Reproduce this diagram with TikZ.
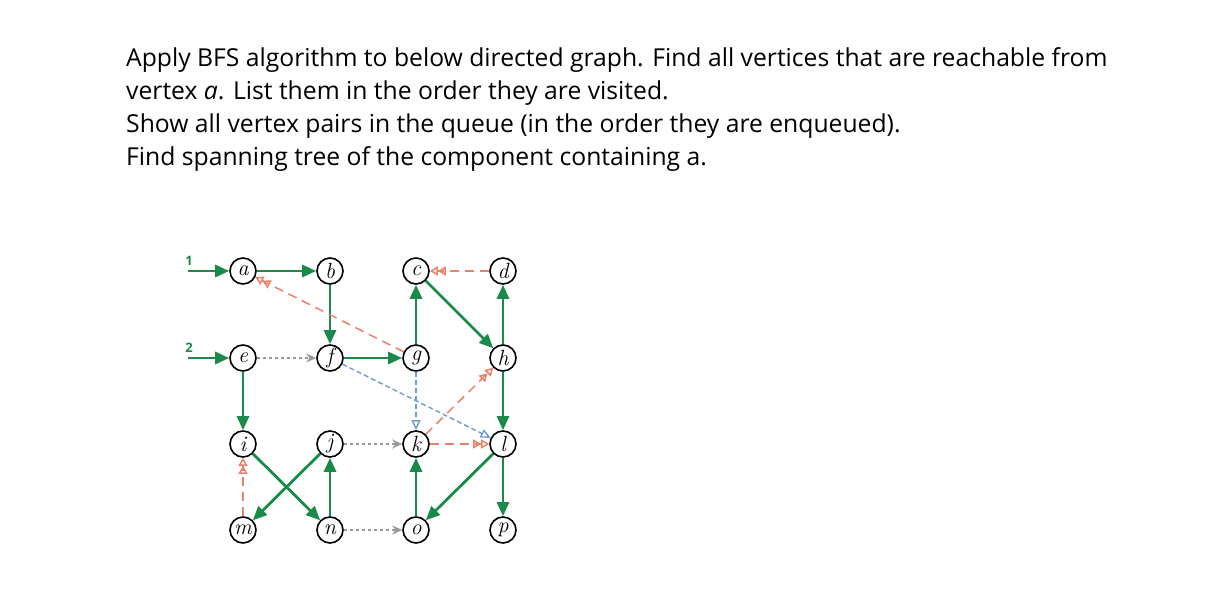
\documentclass[tikz,border=0pt]{standalone}
\usepackage{fontspec}
\setmainfont{Open Sans}
\newfontfamily\lmr{Latin Modern Roman}
\usetikzlibrary{arrows.meta}
\definecolor{gr}{HTML}{1A8A4A}
\definecolor{rd}{HTML}{E8826A}
\definecolor{bl}{HTML}{6E9BD1}
\definecolor{gy}{HTML}{999999}
\begin{document}
\begin{tikzpicture}[x=1pt,y=-1pt,
  v/.style={circle,draw,line width=1.6pt,minimum size=26pt,inner sep=0pt,font=\lmr\itshape\fontsize{22}{22}\selectfont},
  ge/.style={draw=gr,line width=2.8pt,-{Triangle[length=14pt,width=12pt]}},
  re/.style={draw=rd,line width=1.5pt,dash pattern=on 9pt off 6pt,-{Triangle[open,length=8pt,width=9pt]Triangle[open,length=8pt,width=9pt]}},
  be/.style={draw=bl,line width=1.4pt,dash pattern=on 5pt off 3pt,-{Triangle[open,length=10pt,width=9pt]}},
  ye/.style={draw=gy,line width=1.6pt,dash pattern=on 3pt off 3pt,-{Stealth[length=10pt,width=9pt]}},
  t/.style={anchor=base west,inner sep=0pt,font=\fontsize{24.7}{26}\selectfont}]
\useasboundingbox (0,0) rectangle (1216,596);
\node[t] (l1) at (126,67) {Apply BFS algorithm to below directed graph. Find all vertices that are reachable from};
\node[t] (l2) at (126,100) {vertex \textit{a}. List them in the order they are visited.};
\node[t] (l3) at (126,133) {Show all vertex pairs in the queue (in the order they are enqueued).};
\node[t] (l4) at (126,166) {Find spanning tree of the component containing a.};
\foreach \n/\x/\y in {a/243/271,b/330/271,c/416/271,d/503/271,e/243/358,f/330/358,g/416/358,h/503/358,i/243/444,j/330/444,k/416/444,l/503/444,m/243/530,n/330/530,o/416/530,p/503/530}
  \node[v] (\n) at (\x,\y) {\n};
\coordinate (s1) at (188,271);
\coordinate (s2) at (188,358);
\node[font=\bfseries\fontsize{13}{13}\selectfont,text=gr] (n1) at (189,261) {1};
\node[font=\bfseries\fontsize{13}{13}\selectfont,text=gr] (n2) at (189,348) {2};
\draw[ge] (s1)--(a); \draw[ge] (s2)--(e);
\draw[ge] (a)--(b); \draw[ge] (b)--(f); \draw[ge] (f)--(g); \draw[ge] (g)--(c);
\draw[ge] (c)--(h); \draw[ge] (h)--(d); \draw[ge] (h)--(l); \draw[ge] (l)--(p);
\draw[ge] (l)--(o); \draw[ge] (o)--(k); \draw[ge] (n)--(j); \draw[ge] (j)--(m);
\draw[ge] (i)--(n); \draw[ge] (e)--(i);
\draw[re] (g)--(a); \draw[re] (d)--(c); \draw[re] (k)--(h); \draw[re] (k)--(l); \draw[re] (m)--(i);
\draw[be] (f)--(l); \draw[be] (g)--(k);
\draw[ye] (e)--(f); \draw[ye] (j)--(k); \draw[ye] (n)--(o);
\end{tikzpicture}
\end{document}
